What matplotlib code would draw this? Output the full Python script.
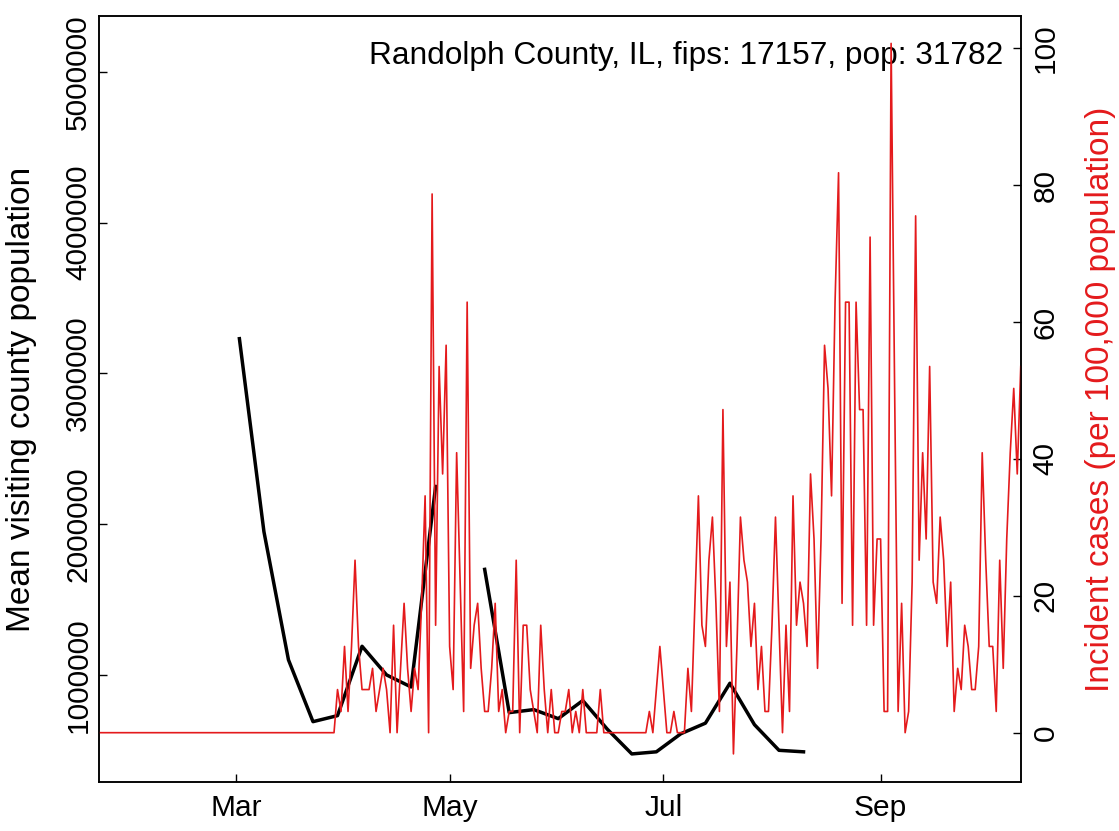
import numpy as np
import pandas as pd
import matplotlib
matplotlib.use('Agg')
import matplotlib.pyplot as plt

plt.rcParams['font.family'] = ['Liberation Sans', 'DejaVu Sans']

RED = '#E41A1C'
TITLE = 'Randolph County, IL, fips: 17157, pop: 31782'

# daily incident cases per 100,000 population, 2020-01-22 .. 2020-10-11
case_dates = pd.date_range('2020-01-22', '2020-10-11', freq='D')
incidence = [
    0, 0, 0, 0, 0, 0, 0, 0, 0, 0,
    0, 0, 0, 0, 0, 0, 0, 0, 0, 0,
    0, 0, 0, 0, 0, 0, 0, 0, 0, 0,
    0, 0, 0, 0, 0, 0, 0, 0, 0, 0,
    0, 0, 0, 0, 0, 0, 0, 0, 0, 0,
    0, 0, 0, 0, 0, 0, 0, 0, 0, 0,
    0, 0, 0, 0, 0, 0, 0, 0,
    6.3, 3.1, 12.6, 3.1, 12.6, 25.2, 12.6, 6.3, 6.3, 6.3,
    9.4, 3.1, 6.3, 9.4, 6.3, 0, 15.7, 0, 9.4, 18.9,
    9.4, 3.1, 9.4, 6.3, 18.9, 34.6, 0, 78.7, 15.7, 53.5,
    37.8, 56.6, 12.6, 6.3, 40.9, 22.0, 3.1, 62.9, 9.4, 15.7,
    18.9, 9.4, 3.1, 3.1, 9.4, 18.9, 3.1, 6.3, 0, 3.1,
    3.1, 25.2, 0, 15.7, 15.7, 6.3, 3.1, 0, 15.7, 6.3,
    0, 6.3, 0, 0, 3.1, 3.1, 6.3, 0, 3.1, 0,
    6.3, 0, 0, 0, 0, 6.3, 0, 0, 0, 0,
    0, 0, 0, 0, 0, 0, 0, 0, 0, 3.1,
    0, 6.3, 12.6, 6.3, 0, 0, 3.1, 0, 0, 0,
    9.4, 3.1, 18.9, 34.6, 15.7, 12.6, 25.2, 31.5, 18.9, 3.1,
    47.2, 12.6, 22.0, -3.1, 12.6, 31.5, 25.2, 22.0, 12.6, 18.9,
    6.3, 12.6, 3.1, 3.1, 15.7, 31.5, 15.7, 0, 15.7, 3.1,
    34.6, 15.7, 22.0, 18.9, 12.6, 37.8, 28.3, 9.4, 28.3, 56.6,
    50.3, 34.6, 62.9, 81.8, 18.9, 62.9, 62.9, 15.7, 62.9, 47.2,
    47.2, 15.7, 72.4, 15.7, 28.3, 28.3, 3.1, 3.1, 100.7, 50.3,
    3.1, 18.9, 0, 3.1, 22.0, 75.5, 25.2, 40.9, 28.3, 53.5,
    22.0, 18.9, 31.5, 25.2, 12.6, 22.0, 3.1, 9.4, 6.3, 15.7,
    12.6, 6.3, 6.3, 12.6, 40.9, 25.2, 12.6, 12.6, 3.1, 25.2,
    9.4, 28.3, 40.9, 50.3, 37.8, 53.5,
]

# weekly mean visiting county population (May 4 missing)
visit_dates = pd.date_range('2020-03-02', periods=24, freq='7D')
visitors = [
    3230000, 1950000, 1100000, 690000, 730000, 1190000, 1000000, 920000,
    2250000, np.nan, 1700000, 750000, 770000, 710000, 830000, 640000,
    476000, 490000, 610000, 680000, 945000, 670000, 500000, 490000,
]

left_ticks = [1000000, 2000000, 3000000, 4000000, 5000000]
right_ticks = [0, 20, 40, 60, 80, 100]
month_ticks = pd.to_datetime(['2020-03-01', '2020-05-01', '2020-07-01', '2020-09-01'])
month_labels = ['Mar', 'May', 'Jul', 'Sep']

FS_TICK = 21.5
FS_TITLE = 22.8
FS_LAB = 24

fig = plt.figure(figsize=(11.19, 8.31), dpi=100)
ax = fig.add_axes([0.0887, 0.059, 0.8235, 0.9217])
ax2 = ax.twinx()

ax.plot(visit_dates, visitors, color='black', lw=2.5, solid_joinstyle='round')
ax2.plot(case_dates, incidence, color=RED, lw=1.2)

ax.set_xlim(case_dates[0], case_dates[-1])
ax.set_ylim(290000, 5370000)
ax2.set_ylim(-7.2, 104.7)

ax.set_xticks(month_ticks)
ax.set_xticklabels(month_labels, fontsize=FS_TICK)
ax.set_yticks(left_ticks)
ax.set_yticklabels([str(v) for v in left_ticks], fontsize=FS_TICK, rotation=90, va='center')
ax2.set_yticks(right_ticks)
ax2.set_yticklabels([str(v) for v in right_ticks], fontsize=FS_TICK, rotation=90, va='center')

ax.tick_params(axis='x', direction='in', length=6, width=1, pad=9)
ax.tick_params(axis='y', direction='in', length=6, width=1, pad=5)
ax2.tick_params(axis='y', direction='in', length=6, width=1, pad=8)

for a in (ax, ax2):
    for s in a.spines.values():
        s.set_linewidth(1.1)

ax.text(0.981, 0.948, TITLE, transform=ax.transAxes, ha='right', va='center', fontsize=FS_TITLE)

fig.text(22 / 1119, 1 - 399 / 831, 'Mean visiting county population', rotation=90,
         ha='center', va='center', fontsize=FS_LAB)
fig.text(1100 / 1119, 1 - 399 / 831, 'Incident cases (per 100,000 population)', rotation=90,
         ha='center', va='center', fontsize=FS_LAB, color=RED)

fig.savefig('out.png', dpi=100)
